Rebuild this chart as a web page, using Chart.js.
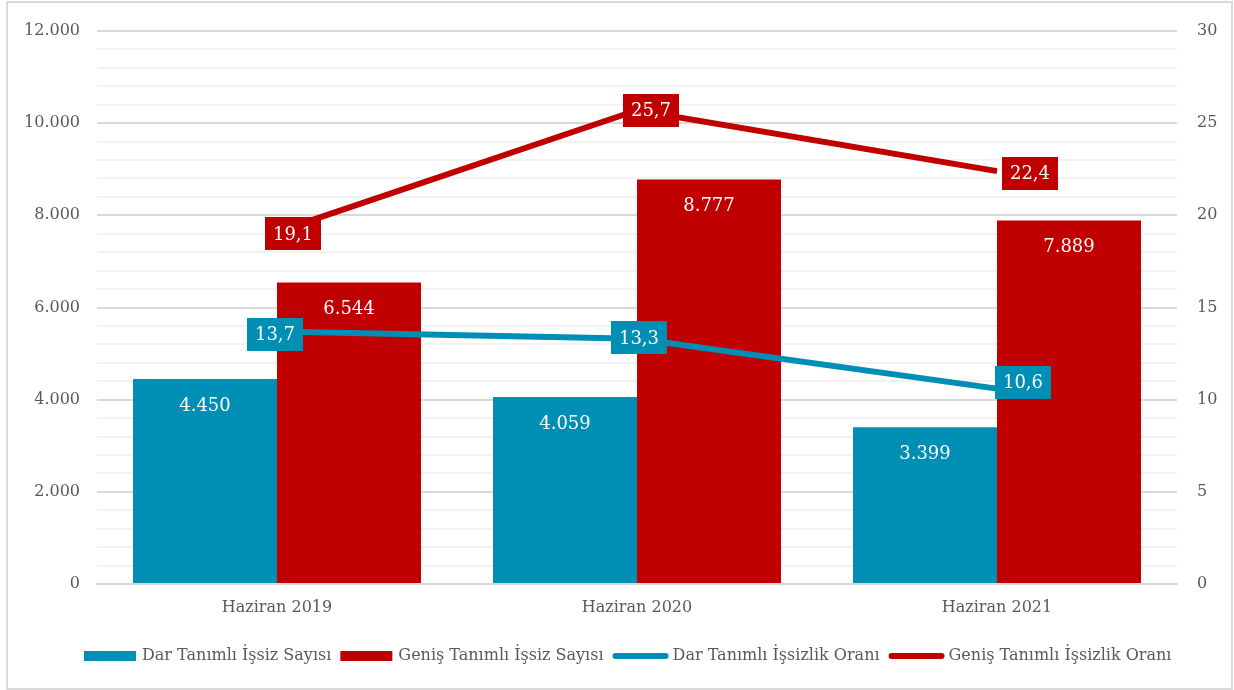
<!DOCTYPE html>
<html><head><meta charset="utf-8">
<script src="https://cdn.jsdelivr.net/npm/chart.js@4/dist/chart.umd.min.js"></script>
<style>
html,body{margin:0;padding:0;background:#fff;}
#wrap{position:relative;width:1234px;height:690px;}
#frame{position:absolute;left:6px;top:1px;width:1223px;height:685px;border:2px solid #d9d9d9;pointer-events:none;}
</style></head>
<body>
<div id="wrap"><canvas id="c" width="1234" height="690"></canvas><div id="frame"></div></div>
<script>
const categories = ['Haziran 2019', 'Haziran 2020', 'Haziran 2021'];
const darSayisi = [4450, 4059, 3399];
const genisSayisi = [6544, 8777, 7889];
const darOrani = [13.7, 13.3, 10.6];
const genisOrani = [19.1, 25.7, 22.4];
const seriesNames = ['Dar Tanımlı İşsiz Sayısı', 'Geniş Tanımlı İşsiz Sayısı', 'Dar Tanımlı İşsizlik Oranı', 'Geniş Tanımlı İşsizlik Oranı'];

const BLUE = '#008FB4', RED = '#C00000';
const FONT = "'DejaVu Serif', serif";

function fmtThousands(v){ return String(Math.round(v)).replace(/\B(?=(\d{3})+(?!\d))/g, '.'); }
function fmtDec(v){ return v.toFixed(1).replace('.', ','); }

// label box nudges (pixels) for the rate series, as placed in the original
const LABEL_NUDGE = { 2: [[-2, 3], [2, -1], [26, -6]], 3: [[16, 2], [14, 0], [33, 2]] };

const labelPlugin = {
  id: 'valueLabels',
  afterDatasetsDraw(chart){
    const ctx = chart.ctx;
    ctx.save();
    ctx.textAlign = 'center';
    ctx.textBaseline = 'middle';
    [0,1].forEach(di => {
      const meta = chart.getDatasetMeta(di);
      meta.data.forEach((bar, i) => {
        const v = chart.data.datasets[di].data[i];
        ctx.fillStyle = '#ffffff';
        ctx.font = '18px ' + FONT;
        ctx.fillText(fmtThousands(v), bar.x, bar.y + 27);
      });
    });
    [2,3].forEach(di => {
      const meta = chart.getDatasetMeta(di);
      const col = chart.data.datasets[di].borderColor;
      meta.data.forEach((pt, i) => {
        const v = chart.data.datasets[di].data[i];
        const o = LABEL_NUDGE[di][i];
        const cx = pt.x + o[0], cy = pt.y + o[1];
        const w = 56, h = 33;
        ctx.fillStyle = col;
        ctx.fillRect(Math.round(cx - w/2), Math.round(cy - h/2), w, h);
        ctx.fillStyle = '#ffffff';
        ctx.font = '18px ' + FONT;
        ctx.fillText(fmtDec(v), cx, cy + 1);
      });
    });
    ctx.restore();
  }
};

const legendPlugin = {
  id: 'customLegend',
  afterDraw(chart){
    const ctx = chart.ctx;
    ctx.save();
    ctx.font = '16px ' + FONT;
    ctx.textBaseline = 'middle';
    ctx.textAlign = 'left';
    const y = 656;
    const items = [
      {type:'box', color: BLUE, text: seriesNames[0]},
      {type:'box', color: RED, text: seriesNames[1]},
      {type:'line', color: BLUE, text: seriesNames[2]},
      {type:'line', color: RED, text: seriesNames[3]}
    ];
    let x = 84;
    items.forEach(it => {
      if (it.type === 'box') {
        ctx.fillStyle = it.color;
        ctx.fillRect(x, y - 5, 52, 10);
        x += 52 + 6;
      } else {
        ctx.strokeStyle = it.color;
        ctx.lineWidth = 6;
        ctx.lineCap = 'round';
        ctx.beginPath(); ctx.moveTo(x + 3, y); ctx.lineTo(x + 53, y); ctx.stroke();
        x += 60;
      }
      ctx.fillStyle = '#595959';
      ctx.fillText(it.text, x, y);
      x += ctx.measureText(it.text).width + 9;
    });
    ctx.restore();
  }
};

new Chart(document.getElementById('c'), {
  data: {
    labels: categories,
    datasets: [
      {type:'bar', label: seriesNames[0], data: darSayisi, yAxisID:'y', backgroundColor: BLUE, categoryPercentage: 0.8, barPercentage: 1.0, order: 2},
      {type:'bar', label: seriesNames[1], data: genisSayisi, yAxisID:'y', backgroundColor: RED, categoryPercentage: 0.8, barPercentage: 1.0, order: 2},
      {type:'line', label: seriesNames[2], data: darOrani, yAxisID:'y1', borderColor: BLUE, backgroundColor: BLUE, borderWidth: 6, pointRadius: 0, tension: 0, order: 0},
      {type:'line', label: seriesNames[3], data: genisOrani, yAxisID:'y1', borderColor: RED, backgroundColor: RED, borderWidth: 6, pointRadius: 0, tension: 0, order: 0}
    ]
  },
  options: {
    responsive: false,
    animation: false,
    layout: { padding: { left: 0, right: 0, top: 31, bottom: 66 } },
    plugins: { legend: { display: false }, tooltip: { enabled: false } },
    scales: {
      x: {
        grid: { display: false, drawTicks: false },
        border: { display: true, color: '#d9d9d9', width: 2 },
        ticks: { color: '#595959', font: { family: FONT, size: 16 }, padding: 14 },
        afterFit(s){ s.height = 40; }
      },
      y: {
        position: 'left', min: 0, max: 12000,
        border: { display: false },
        grid: { drawTicks: false, color: ctx => (ctx.tick && ctx.tick.value % 2000 === 0) ? '#d9d9d9' : '#f2f2f2', lineWidth: 2 },
        ticks: { stepSize: 400, autoSkip: false, color: '#595959', font: { family: FONT, size: 16 }, padding: 17,
          callback: v => (v % 2000 === 0) ? fmtThousands(v) : '' },
        afterFit(s){ s.width = 97; }
      },
      y1: {
        position: 'right', min: 0, max: 30,
        border: { display: false },
        grid: { display: false, drawTicks: false },
        ticks: { stepSize: 5, color: '#595959', font: { family: FONT, size: 16 }, padding: 20 },
        afterFit(s){ s.width = 57; }
      }
    }
  },
  plugins: [labelPlugin, legendPlugin]
});
</script>
</body></html>
